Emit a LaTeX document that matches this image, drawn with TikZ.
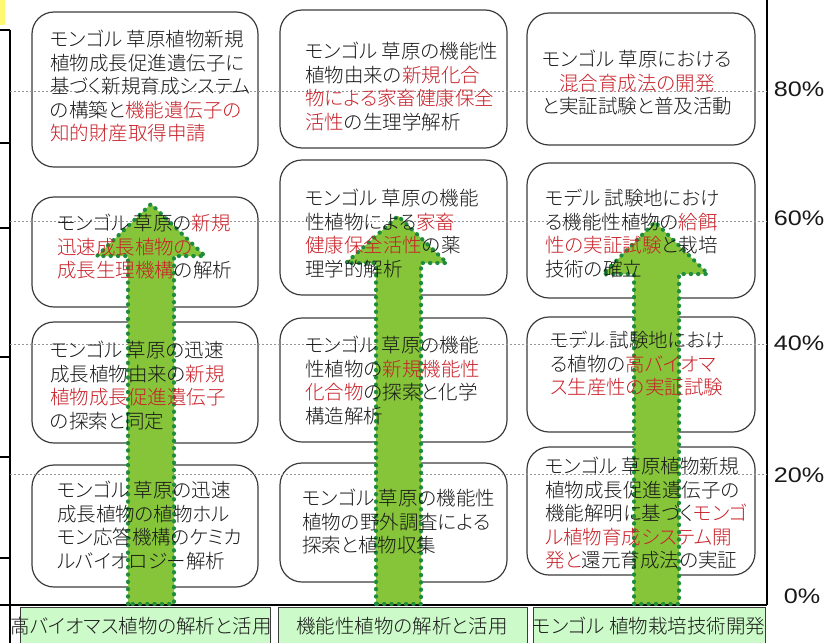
\documentclass[tikz,border=0pt]{standalone}
\usepackage{fontspec}
\setmainfont{Liberation Sans}
\newfontfamily\jp[RawFeature=+palt]{Noto Sans CJK JP Light}
\definecolor{jred}{RGB}{200,32,40}
\definecolor{txt}{RGB}{25,25,25}
\definecolor{boxline}{RGB}{60,60,60}
\definecolor{arrfill}{RGB}{134,196,58}
\definecolor{arrdot}{RGB}{30,140,60}
\definecolor{gridc}{RGB}{150,150,150}
\definecolor{lblgreen}{RGB}{204,250,200}
\newcommand{\rd}[1]{\textcolor{jred}{#1}}
\tikzset{
  stagebox/.style={draw=boxline, line width=1.2pt, rounded corners=22pt, inner sep=0pt},
  jtext/.style={font=\jp\fontsize{19.5}{23.5}\selectfont, text=txt, inner sep=0pt, align=left, anchor=north west},
  jtextc/.style={font=\jp\fontsize{19.5}{23.5}\selectfont, text=txt, inner sep=0pt, align=center, anchor=north},
  growarrow/.style={fill=arrfill, draw=arrdot, line width=4pt, line cap=round, dash pattern=on 0.5pt off 6.8pt},
  gridline/.style={draw=gridc, line width=0.8pt, dash pattern=on 2pt off 2pt},
  axisline/.style={draw=black, line width=1.3pt},
  pct/.style={font=\fontsize{21}{24}\selectfont, text=txt, inner sep=0pt, xscale=1.2},
  lbltext/.style={font=\jp\fontsize{19.5}{23}\selectfont, text=txt, inner sep=0pt}
}
\begin{document}
\begin{tikzpicture}[x=1pt,y=-1pt]
\useasboundingbox (0,0) rectangle (832,643);
\fill[white] (0,0) rectangle (832,643);
\fill[yellow!55] (0,0) rectangle (5,25);

% boxes
\node[stagebox, minimum width=226pt, minimum height=155pt] (b11) at (145,89.5) {};
\node[stagebox, minimum width=226pt, minimum height=110pt] (b12) at (145,252) {};
\node[stagebox, minimum width=226pt, minimum height=121pt] (b13) at (145,382.5) {};
\node[stagebox, minimum width=226pt, minimum height=122pt] (b14) at (145,526) {};
\node[stagebox, minimum width=227pt, minimum height=138pt] (b21) at (393.5,79) {};
\node[stagebox, minimum width=227pt, minimum height=135pt] (b22) at (393.5,227.5) {};
\node[stagebox, minimum width=227pt, minimum height=124pt] (b23) at (393.5,380) {};
\node[stagebox, minimum width=227pt, minimum height=119pt] (b24) at (393.5,522.5) {};
\node[stagebox, minimum width=228pt, minimum height=132pt] (b31) at (641,79) {};
\node[stagebox, minimum width=228pt, minimum height=135pt] (b32) at (641,230.5) {};
\node[stagebox, minimum width=228pt, minimum height=115pt] (b33) at (641,374.5) {};
\node[stagebox, minimum width=228pt, minimum height=128pt] (b34) at (641,511) {};

% axis frame
\coordinate (lt) at (10,30);
\coordinate (lb) at (10,643);
\coordinate (rt) at (767,0);
\coordinate (rb) at (767,605);
\coordinate (bl) at (0,605);
\draw[axisline] (lt) -- (lb);
\draw[axisline] (rt) -- (rb);
\draw[axisline] (bl) -- (rb);
\foreach \ty in {30,143,228,357,457,558}{
  \draw[axisline] (0,\ty) -- (10,\ty);
}

% grid lines
\foreach \gy in {91,221,344,474}{
  \draw[gridline] (10,\gy) -- (767,\gy);
}

% arrows
\draw[growarrow] (128,604) -- (128,256) -- (97,256) -- (151,204) -- (205,256) -- (174,256) -- (174,604) -- cycle;
\draw[growarrow] (376,604) -- (376,263) -- (346,263) -- (398,216) -- (447,263) -- (421,263) -- (421,604) -- cycle;
\draw[growarrow] (634,604) -- (634,274) -- (603,274) -- (655,222) -- (708,274) -- (679,274) -- (679,604) -- cycle;

% texts column 1
\node[jtext] (t11) at (50,30) {モンゴル 草原植物新規\\植物成長促進遺伝子に\\基づく新規育成システム\\の構築と\rd{機能遺伝子の}\\\rd{知的財産取得申請}};
\node[jtext] (t12) at (57,214) {モンゴル 草原の\rd{新規}\\\rd{迅速成長植物の}\\\rd{成長生理機構}の解析};
\node[jtext] (t13) at (50,341) {モンゴル 草原の迅速\\成長植物由来の\rd{新規}\\\rd{植物成長促進遺伝子}\\の探索と同定};
\node[jtext] (t14) at (57,481) {モンゴル 草原の迅速\\成長植物の植物ホル\\モン応答機構のケミカ\\ルバイオロジー解析};
% column 2
\node[jtext] (t21) at (305,42) {モンゴル 草原の機能性\\植物由来の\rd{新規化合}\\\rd{物による家畜健康保全}\\\rd{活性}の生理学解析};
\node[jtext] (t22) at (305,189) {モンゴル 草原の機能\\性植物による\rd{家畜}\\\rd{健康保全活性}の薬\\理学的解析};
\node[jtext] (t23) at (305,336) {モンゴル 草原の機能\\性植物の\rd{新規機能性}\\\rd{化合物}の探索と化学\\構造解析};
\node[jtext] (t24) at (302,489) {モンゴル 草原の機能性\\植物の野外調査による\\探索と植物収集};
% column 3
\node[jtextc] (t31) at (637,50) {モンゴル 草原における\\\rd{混合育成法の開発}\\と実証試験と普及活動};
\node[jtext] (t32) at (545,189) {モデル 試験地におけ\\る機能性植物の\rd{給餌}\\\rd{性の実証試験}と栽培\\技術の確立};
\node[jtext] (t33) at (550,331) {モデル 試験地におけ\\る植物の\rd{高バイオマ}\\\rd{ス生産性の実証試験}};
\node[jtext] (t34) at (545,457) {モンゴル 草原植物新規\\植物成長促進遺伝子の\\機能解明に基づく\rd{モンゴ}\\\rd{ル植物育成システム開}\\\rd{発と}還元育成法の実証};

% percent labels
\node[pct] (p80) at (799,89) {80\%};
\node[pct] (p60) at (799,218) {60\%};
\node[pct] (p40) at (799,343) {40\%};
\node[pct] (p20) at (799,475) {20\%};
\node[pct] (p0) at (802,596) {0\%};

% bottom label boxes
\fill[lblgreen] (20,607) rectangle (270,643);
\draw[boxline, line width=1pt] (20,643) -- (20,607) -- (270,607) -- (270,643);
\fill[lblgreen] (278,607) rectangle (527,643);
\draw[boxline, line width=1pt] (278,643) -- (278,607) -- (527,607) -- (527,643);
\fill[lblgreen] (533,607) rectangle (765,643);
\draw[boxline, line width=1pt] (533,643) -- (533,607) -- (765,607) -- (765,643);
\node[lbltext] (l1) at (141,626) {高バイオマス植物の解析と活用};
\node[lbltext] (l2) at (402,626) {機能性植物の解析と活用};
\node[lbltext] (l3) at (649,626) {モンゴル 植物栽培技術開発};
\end{tikzpicture}
\end{document}
